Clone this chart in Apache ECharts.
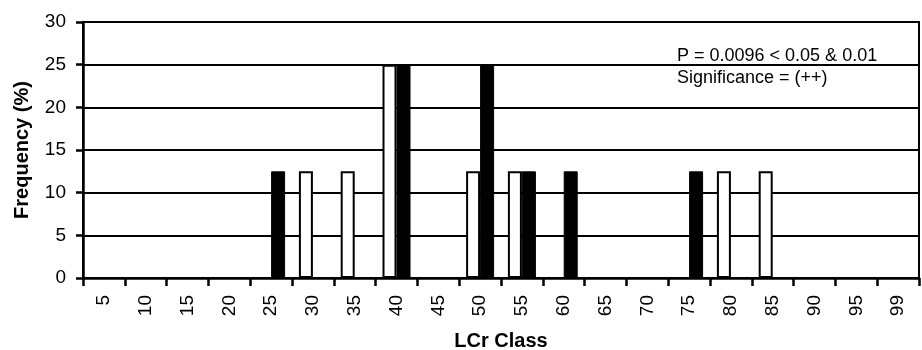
<!DOCTYPE html>
<html>
<head>
<meta charset="utf-8">
<script src="https://cdn.jsdelivr.net/npm/echarts@6/dist/echarts.min.js"></script>
<style>
  html, body { margin: 0; padding: 0; background: #fff; }
  #chart { width: 922px; height: 350px; }
</style>
</head>
<body>
<div id="chart"></div>
<script>
const categories = ['5','10','15','20','25','30','35','40','45','50','55','60','65','70','75','80','85','90','95','99'];
const whiteValues = [null,null,null,null,null,12.5,12.5,25,null,12.5,12.5,null,null,null,null,12.5,12.5,null,null,null];
const blackValues = [null,null,null,null,12.5,null,null,25,null,25,12.5,12.5,null,null,12.5,null,null,null,null,null];
const yTicks = [0,5,10,15,20,25,30];
const annotationLines = ['P = 0.0096 < 0.05 & 0.01', 'Significance = (++)'];
const xTitle = 'LCr Class';
const yTitle = 'Frequency (%)';

const FONT = "'Liberation Sans', Arial, sans-serif";
const chart = echarts.init(document.getElementById('chart'), null, { renderer: 'canvas' });
chart.setOption({
  animation: false,
  backgroundColor: '#fff',
  textStyle: { fontFamily: FONT },
  title: {
    text: annotationLines.join('\n'),
    left: 677,
    top: 45,
    padding: 0,
    textStyle: { fontFamily: FONT, fontSize: 18, fontWeight: 'normal', color: '#000', lineHeight: 22 }
  },
  grid: {
    left: 83, right: 3, top: 22, bottom: 72,
    outerBoundsMode: 'none',
    containLabel: false,
    show: true, borderColor: '#000', borderWidth: 2, backgroundColor: 'transparent'
  },
  xAxis: {
    type: 'category',
    data: categories,
    boundaryGap: true,
    name: xTitle,
    nameLocation: 'middle',
    nameGap: 53,
    nameTextStyle: { fontFamily: FONT, fontSize: 20, fontWeight: 'bold', color: '#000' },
    axisLine: { show: true, lineStyle: { color: '#000', width: 2.5 } },
    axisTick: { show: true, alignWithLabel: false, length: 8, lineStyle: { color: '#000', width: 2.5 } },
    axisLabel: { rotate: 90, margin: 17, fontFamily: FONT, fontSize: 19, color: '#000', interval: 0 },
    splitLine: { show: false }
  },
  yAxis: {
    type: 'value',
    min: yTicks[0],
    max: yTicks[yTicks.length - 1],
    interval: 5,
    name: yTitle,
    nameLocation: 'middle',
    nameGap: 51,
    nameTextStyle: { fontFamily: FONT, fontSize: 20, fontWeight: 'bold', color: '#000' },
    axisLine: { show: true, lineStyle: { color: '#000', width: 2.5 } },
    axisTick: { show: true, length: 7, lineStyle: { color: '#000', width: 2.5 } },
    axisLabel: { margin: 17, fontFamily: FONT, fontSize: 19, color: '#000' },
    splitLine: { show: true, lineStyle: { color: '#000', width: 2 } }
  },
  series: [
    {
      name: 'white',
      type: 'bar',
      data: whiteValues,
      barWidth: 14,
      barGap: '0%',
      itemStyle: { color: '#fff', borderColor: '#000', borderWidth: 2 }
    },
    {
      name: 'black',
      type: 'bar',
      data: blackValues,
      barWidth: 14,
      barGap: '0%',
      itemStyle: { color: '#000', borderColor: '#000', borderWidth: 1 }
    }
  ]
});
</script>
</body>
</html>
